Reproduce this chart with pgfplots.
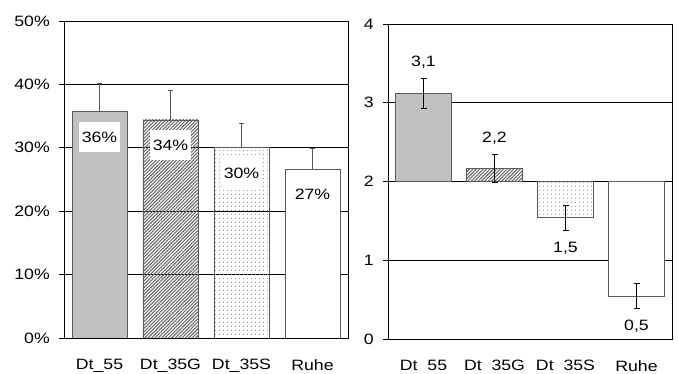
\documentclass[border=0pt]{standalone}
\usepackage{pgfplots}
\pgfplotsset{compat=1.18}
\usepackage{fontspec}
\setmainfont{Liberation Sans}
\usetikzlibrary{patterns.meta}
\definecolor{bargrey}{HTML}{C0C0C0}
\definecolor{edge}{HTML}{5A5A5A}
\definecolor{errgrey}{HTML}{555555}
\definecolor{hatch}{HTML}{6A6A6A}
\definecolor{dotc}{HTML}{707070}
\newcommand\sx[1]{\scalebox{1.18}[1]{#1}}

\pgfplotsset{
  common/.style={
    scale only axis, width=284pt, xmin=-0.5, xmax=3.5,
    xtick={0,1,2,3}, xtick style={draw=none},
    ytick pos=left, tick align=outside, major tick length=5pt,
    ymajorgrids, grid style={black, line width=0.7pt},
    axis line style={black, line width=0.8pt},
    every tick/.style={black, line width=0.7pt},
    /pgf/number format/assume math mode=true,
    xticklabel style={yshift=-11pt},
    yticklabel style={xshift=-4pt},
  },
}
\begin{document}
\fontsize{15}{18}\selectfont
\begin{tikzpicture}
\path[use as bounding box] (0,0) rectangle (678pt,374pt);
\begin{axis}[common, at={(64pt,36pt)}, anchor=south west, height=317pt,
  ymin=0, ymax=50, ytick={0,10,20,30,40,50},
  yticklabels={\sx{0\%},\sx{10\%},\sx{20\%},\sx{30\%},\sx{40\%},\sx{50\%}},
  xticklabels={\sx{Dt\_55},\sx{Dt\_35G},\sx{Dt\_35S},\sx{Ruhe}},
  lbar/.style={ybar, bar width=55pt, bar shift=0pt, draw=edge, line width=0.8pt,
     nodes near coords={\sx{#1}}, nodes near coords align={north},
     every node near coord/.append style={yshift=-10pt, fill=white, inner xsep=3pt, minimum height=30pt, text=black},
     error bars/y dir=plus, error bars/y explicit,
     error bars/error bar style={errgrey, line width=0.9pt},
     error bars/error mark options={rotate=90, mark size=2.5pt, errgrey, line width=0.9pt}},
]
\addplot[fill=bargrey, lbar={36\%}] coordinates {(0,35.7) +- (0,4.5)};
\addplot[pattern={Lines[angle=45, distance=2.4pt, line width=1.1pt]}, pattern color=hatch, lbar={34\%}] coordinates {(1,34.4) +- (0,4.6)};
\addplot[pattern={Dots[distance=4pt, radius=0.6pt]}, pattern color=dotc, lbar={30\%}] coordinates {(2,30.0) +- (0,3.9)};
\addplot[fill=white, lbar={27\%}] coordinates {(3,26.6) +- (0,3.3)};
\end{axis}

\begin{axis}[common, at={(388pt,35pt)}, anchor=south west, height=315pt,
  ymin=-2, ymax=2, ytick={-2,-1,0,1,2}, yticklabels={\sx{0},\sx{1},\sx{2},\sx{3},\sx{4}},
  xticklabels={\sx{Dt\phantom{\_}55},\sx{Dt\phantom{\_}35G},\sx{Dt\phantom{\_}35S},\sx{Ruhe}},
  rbar/.style={ybar, bar width=55.5pt, bar shift=0pt, draw=edge, line width=0.8pt,
     nodes near coords={\sx{#1}}, every node near coord/.append style={inner ysep=24pt, text=black},
     error bars/y dir=both, error bars/y explicit,
     error bars/error bar style={black, line width=0.8pt},
     error bars/error mark options={rotate=90, mark size=3pt, black, line width=0.8pt}},
]
\addplot[fill=bargrey, rbar={3,1}] table[x=x, y expr=\thisrow{v}-2, y error=e, row sep=\\] {x v e\\ 0 3.12 0.19\\};
\addplot[pattern={Lines[angle=45, distance=2.4pt, line width=1.1pt]}, pattern color=hatch, rbar={2,2}] table[x=x, y expr=\thisrow{v}-2, y error=e, row sep=\\] {x v e\\ 1 2.165 0.18\\};
\addplot[pattern={Dots[distance=4pt, radius=0.6pt]}, pattern color=dotc, rbar={1,5}] table[x=x, y expr=\thisrow{v}-2, y error=e, row sep=\\] {x v e\\ 2 1.54 0.155\\};
\addplot[fill=white, rbar={0,5}] table[x=x, y expr=\thisrow{v}-2, y error=e, row sep=\\] {x v e\\ 3 0.546 0.16\\};
\end{axis}
\end{tikzpicture}
\end{document}
